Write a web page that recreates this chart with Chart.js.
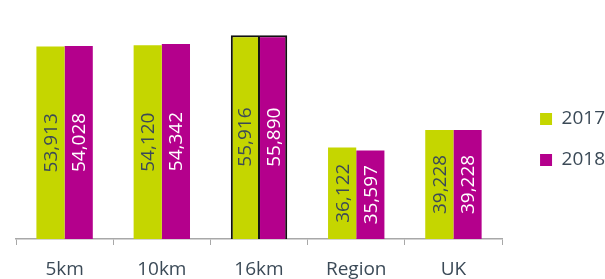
<!DOCTYPE html>
<html>
<head>
<meta charset="utf-8">
<script src="https://cdn.jsdelivr.net/npm/chart.js@4/dist/chart.umd.min.js"></script>
<style>
  body { margin: 0; background: #fff; }
  #wrap { width: 605px; height: 279px; position: relative; }
</style>
</head>
<body>
<div id="wrap"><canvas id="grafica"></canvas></div>
<script>
// datos
const categorias = ['5km', '10km', '16km', 'Region', 'UK'];
const valores2017 = [53913, 54120, 55916, 36122, 39228];
const valores2018 = [54028, 54342, 55890, 35597, 39228];
const series = ['2017', '2018'];

const VERDE = '#c5d600';
const MAGENTA = '#b4008c';
const TEXTO = '#3b4a57';
const EJE = '#a8a8a8';

// bordes negros solo en la categoria 16km (linea del medio compartida)
const bordes2017 = categorias.map(c => c === '16km' ? { top: 2, left: 2, right: 1, bottom: 2 } : 0);
const bordes2018 = categorias.map(c => c === '16km' ? { top: 2, left: 1, right: 2, bottom: 2 } : 0);

// etiquetas giradas dentro de cada barra
const etiquetasBarras = {
    id: 'etiquetasBarras',
    afterDatasetsDraw(chart) {
        const ctx = chart.ctx;
        const abajo = chart.chartArea.bottom;
        chart.data.datasets.forEach((ds, i) => {
            const meta = chart.getDatasetMeta(i);
            meta.data.forEach((bar, j) => {
                const centroY = (bar.y + abajo) / 2;
                ctx.save();
                ctx.translate(bar.x, centroY);
                ctx.rotate(-Math.PI / 2);
                ctx.font = '19px "Open Sans"';
                ctx.fillStyle = i === 0 ? TEXTO : '#ffffff';
                ctx.textAlign = 'center';
                ctx.textBaseline = 'middle';
                ctx.fillText(ds.data[j].toLocaleString('en-US'), 0, 1);
                ctx.restore();
            });
        });
    }
};

// mover la leyenda un poco a la derecha y arriba
const moverLeyenda = {
    id: 'moverLeyenda',
    afterLayout(chart) {
        const l = chart.legend;
        l.left += 16; l.right += 16;
        l.top -= 6; l.bottom -= 6;
    }
};

const ctx = document.getElementById('grafica').getContext('2d');
new Chart(ctx, {
    type: 'bar',
    data: {
        labels: categorias,
        datasets: [{
            label: series[0],
            data: valores2017,
            backgroundColor: VERDE,
            borderColor: '#111',
            borderWidth: bordes2017,
            borderSkipped: false
        }, {
            label: series[1],
            data: valores2018,
            backgroundColor: MAGENTA,
            borderColor: '#111',
            borderWidth: bordes2018,
            borderSkipped: false
        }]
    },
    options: {
        responsive: true,
        maintainAspectRatio: false,
        animation: false,
        layout: { padding: { left: 16, top: 12, right: 6, bottom: 0 } },
        datasets: { bar: { categoryPercentage: 0.58, barPercentage: 1 } },
        plugins: {
            legend: {
                position: 'right',
                labels: {
                    boxWidth: 12,
                    boxHeight: 12,
                    padding: 22,
                    color: TEXTO,
                    font: { family: '"Open Sans"', size: 19 }
                }
            },
            tooltip: { enabled: false }
        },
        scales: {
            y: { display: false, min: 20000, max: 60000 },
            x: {
                afterFit(scale) { scale.height = 40; },
                grid: { offset: true, drawOnChartArea: false, drawTicks: true, tickLength: 6, color: EJE },
                border: { color: EJE, width: 1.5 },
                ticks: { color: TEXTO, padding: 13, font: { family: '"Open Sans"', size: 19 } }
            }
        }
    },
    plugins: [etiquetasBarras, moverLeyenda]
});
</script>
</body>
</html>
